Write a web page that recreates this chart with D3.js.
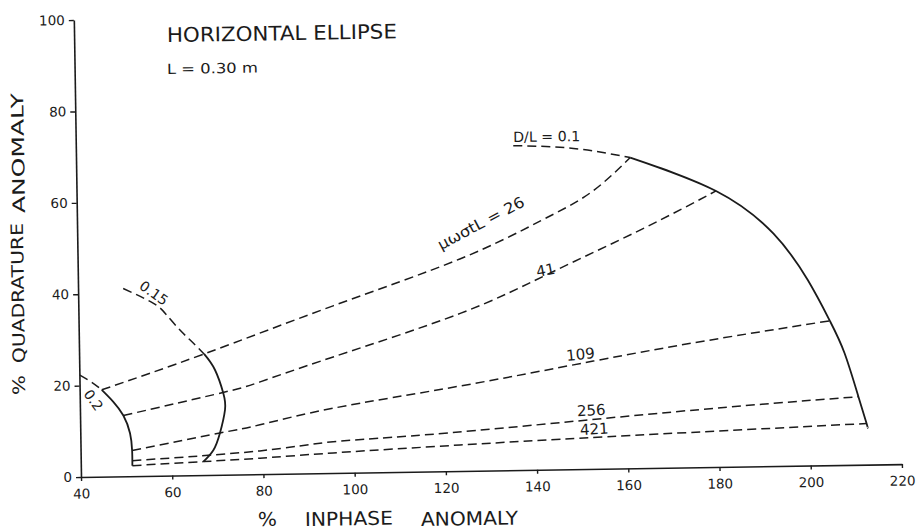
<!DOCTYPE html>
<html>
<head>
<meta charset="utf-8">
<title>Horizontal ellipse – inphase vs quadrature anomaly</title>
<script src="https://cdn.jsdelivr.net/npm/d3@7/dist/d3.min.js"></script>
<style>
  html, body { margin: 0; padding: 0; background: #ffffff; }
  svg { display: block; }
  text { font-family: "DejaVu Sans", "Liberation Sans", sans-serif; fill: #1b1b1b; }
</style>
</head>
<body>
<svg id="chart" width="919" height="529"></svg>
<script>
// ---- axis ticks ----
const xTicks = [40, 60, 80, 100, 120, 140, 160, 180, 200, 220];
const yTicks = [0, 20, 40, 60, 80, 100];

// ---- depth contours, D/L (inphase %, quadrature %) ----
const dl01Dashed = [[135.9, 71.0], [149.1, 70.2], [161.5, 68.0]];
const dl01Solid  = [[161.5, 68.0], [180.2, 60.4], [192.6, 50.9], [200.0, 40.6],
                    [204.7, 31.6], [207.8, 24.5], [210.7, 14.9], [212.4, 9.0], [212.6, 8.1]];
const dl015Dashed = [[49.9, 41.1], [56.4, 37.8], [59.3, 35.2], [62.2, 31.8],
                     [64.4, 29.6], [67.4, 26.5]];
const dl015Solid  = [[67.4, 26.5], [69.75, 22.95], [71.5, 17.8], [71.8, 14.2],
                     [70.6, 9.1], [69.1, 5.4], [66.9, 2.95]];
const dl02Dashed = [[40.1, 22.3], [42.5, 20.8], [44.85, 19.0]];
const dl02Solid  = [[44.85, 19.0], [47.3, 16.4], [49.5, 13.3], [50.9, 9.4],
                    [51.3, 5.6], [51.3, 2.3]];

// ---- conductivity contours, μωσtL ----
const mu26  = [[44.85, 19.0], [67.4, 26.5], [95.9, 36.6], [123.8, 46.4],
               [141.5, 54.4], [152.6, 60.4], [161.5, 68.0]];
const mu41  = [[49.5, 13.3], [71.4, 18.0], [79.6, 20.2], [95.7, 25.4],
               [123.7, 34.5], [143.5, 43.0], [163.4, 52.1], [180.2, 60.4]];
const mu109 = [[51.3, 5.6], [70.3, 9.1], [79.4, 10.8], [95.6, 14.2],
               [123.4, 18.6], [152.7, 23.6], [177.7, 27.7], [204.7, 31.6]];
const mu256 = [[51.3, 3.4], [79.3, 5.1], [95.4, 6.85], [121.0, 8.4],
               [170.1, 12.2], [210.7, 14.9]];
const mu421 = [[51.3, 2.3], [66.9, 2.95], [79.3, 3.5], [95.4, 4.4],
               [123.2, 5.7], [155.4, 7.0], [212.4, 9.0]];

// ---- curve labels (text, anchor in data units) ----
const curveLabels = [
  { id: "dl01",  text: "D/L = 0.1",   x: 135.9, y: 71.8 },
  { id: "mu26",  text: "μωσtL = 26",  x: 119.7, y: 48.4 },
  { id: "mu41",  text: "41",          x: 140.7, y: 42.2 },
  { id: "mu109", text: "109",         x: 146.9, y: 23.7 },
  { id: "mu256", text: "256",         x: 149.0, y: 11.6 },
  { id: "mu421", text: "421",         x: 149.6, y: 7.5 },
  { id: "dl015", text: "0.15",        x: 56.6,  y: 40.0 },
  { id: "dl02",  text: "0.2",         x: 43.0,  y: 16.8 }
];

// ---------------------------------------------------------------
const svg = d3.select("#chart");
const ink = "#1b1b1b";

// plot origin on the page and a slight tilt of the whole drawing
const ox = 81, oy = 477, tilt = -0.9;
const plotW = 821, plotH = 457;

const x = d3.scaleLinear().domain([40, 220]).range([0, plotW]);
const y = d3.scaleLinear().domain([0, 100]).range([0, -plotH]);

const g = svg.append("g").attr("transform", `translate(${ox},${oy}) rotate(${tilt})`);

// page position -> local coordinates of the tilted group
function toLocal(px, py) {
  const a = -tilt * Math.PI / 180;
  const dx = px - ox, dy = py - oy;
  return [dx * Math.cos(a) - dy * Math.sin(a), dx * Math.sin(a) + dy * Math.cos(a)];
}

// axes
const xAxis = d3.axisBottom(x).tickValues(xTicks).tickFormat(d3.format("d"))
  .tickSize(4).tickPadding(8).tickSizeOuter(0);
const yAxis = d3.axisLeft(y).tickValues(yTicks).tickFormat(d3.format("d"))
  .tickSize(5).tickPadding(4).tickSizeOuter(0);

const gx = g.append("g").call(xAxis);
const gy = g.append("g").call(yAxis);
[gx, gy].forEach(a => {
  a.select(".domain").attr("stroke", ink).attr("stroke-width", 1.6);
  a.selectAll(".tick line").attr("stroke", ink).attr("stroke-width", 1.4);
  a.selectAll(".tick text").attr("fill", ink)
    .style("font-family", '"DejaVu Sans", sans-serif').style("font-size", "13.5px");
});

// all contours drawn as smooth natural splines through their points
const curveLine = d3.line().x(d => x(d[0])).y(d => y(d[1])).curve(d3.curveNatural);

function drawCurve(data, dashed) {
  g.append("path")
    .datum(data)
    .attr("d", curveLine)
    .attr("fill", "none")
    .attr("stroke", ink)
    .attr("stroke-width", dashed ? 1.5 : 1.8)
    .attr("stroke-dasharray", dashed ? "9,5" : null)
    .attr("stroke-linecap", "butt");
}

[mu26, mu41, mu109, mu256, mu421].forEach(d => drawCurve(d, true));
[dl01Dashed, dl015Dashed, dl02Dashed].forEach(d => drawCurve(d, true));
[dl01Solid, dl015Solid, dl02Solid].forEach(d => drawCurve(d, false));

// curve labels
const labelStyle = {
  dl01:  { angle: 0,   size: 14,  anchor: "start",  len: 67 },
  mu26:  { angle: -27, size: 15,  anchor: "start",  len: 96 },
  mu41:  { angle: -10, size: 15,  anchor: "start",  len: null },
  mu109: { angle: -5,  size: 15,  anchor: "start",  len: null },
  mu256: { angle: -2,  size: 15,  anchor: "start",  len: null },
  mu421: { angle: -2,  size: 15,  anchor: "start",  len: null },
  dl015: { angle: 36,  size: 14,  anchor: "middle", len: null },
  dl02:  { angle: 55,  size: 14,  anchor: "middle", len: null }
};

curveLabels.forEach(l => {
  const s = labelStyle[l.id];
  const t = g.append("text")
    .attr("transform", `translate(${x(l.x)},${y(l.y)}) rotate(${s.angle})`)
    .attr("text-anchor", s.anchor)
    .attr("dy", s.anchor === "middle" ? "0.35em" : 0)
    .style("font-size", s.size + "px")
    .text(l.text);
  if (s.len) t.attr("textLength", s.len).attr("lengthAdjust", "spacingAndGlyphs");
});

// titles
function pageText(px, py, str, size, len, rot) {
  const p = toLocal(px, py);
  const t = g.append("text")
    .attr("transform", `translate(${p[0]},${p[1]})` + (rot ? ` rotate(${rot})` : ""))
    .style("font-size", size + "px")
    .text(str);
  if (len) t.attr("textLength", len).attr("lengthAdjust", "spacingAndGlyphs");
  return t;
}

pageText(167, 42, "HORIZONTAL ELLIPSE", 20, 230);
pageText(167, 74, "L = 0.30 m", 14, 91);

// x axis title
pageText(258, 526, "%", 19, 19);
pageText(305, 526, "INPHASE", 19, 88);
pageText(421, 526, "ANOMALY", 19, 97);

// y axis title (reads bottom to top)
pageText(25, 395, "%", 17, 20, -90);
pageText(25, 363, "QUADRATURE", 17, 140, -90);
pageText(25, 213, "ANOMALY", 17, 120, -90);
</script>
</body>
</html>
